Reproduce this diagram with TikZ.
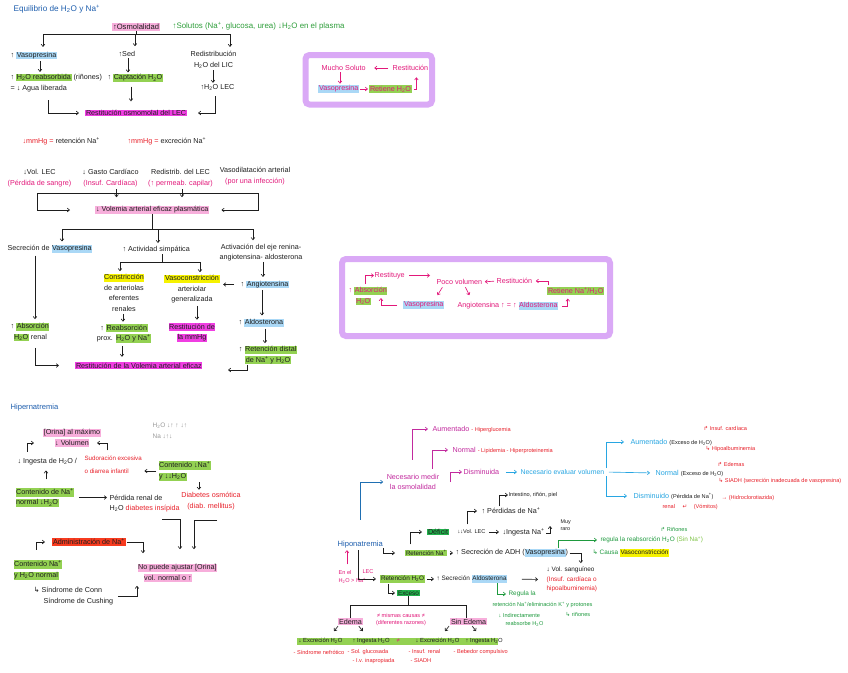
\documentclass[tikz,border=0pt]{standalone}
\usepackage{fontspec}
\setmainfont{Liberation Sans}
\newfontfamily\arrf{DejaVu Sans}
\usetikzlibrary{arrows.meta,calc}
\definecolor{ink}{HTML}{1E1E1E}
\definecolor{tblue}{HTML}{1F5FAE}
\definecolor{tgreen}{HTML}{2E9E3A}
\definecolor{tgreentwo}{HTML}{1E9A3E}
\definecolor{tlgreen}{HTML}{7CC242}
\definecolor{tmag}{HTML}{E2187A}
\definecolor{tred}{HTML}{E8202A}
\definecolor{tviolet}{HTML}{C22A9E}
\definecolor{tcyan}{HTML}{28A6E2}
\definecolor{tbluearr}{HTML}{1F6FB2}
\definecolor{hlpink}{HTML}{F7AEDB}
\definecolor{hlmag}{HTML}{F03EE2}
\definecolor{hlgreen}{HTML}{93D152}
\definecolor{hldgreen}{HTML}{22B24C}
\definecolor{hlblue}{HTML}{AAD8F6}
\definecolor{hlyellow}{HTML}{F6F200}
\definecolor{hlred}{HTML}{F73B1F}
\definecolor{cboxp}{HTML}{DAA9F6}
\definecolor{scribble}{HTML}{9A9A9A}
\newcommand{\HO}{H\textsubscript{2}O}
\newcommand{\Nap}{Na\textsuperscript{+}}
\newcommand{\Kp}{K\textsuperscript{+}}
\newcommand{\HL}[2]{{\setlength{\fboxsep}{0.6pt}\colorbox{#1}{\vphantom{Ay}#2}}}
\newcommand{\fs}{\fontsize{7.2}{10.5}\selectfont}
\newcommand{\fsm}{\fontsize{6.4}{9.7}\selectfont}
\newcommand{\fss}{\fontsize{5.6}{8.5}\selectfont}
\newcommand{\fsb}{\fontsize{5.9}{8}\selectfont}
\begin{document}
\begin{tikzpicture}[x=1pt,y=-1pt,
 t/.style={anchor=west,inner sep=0.4pt,font=\fs,align=left,text=ink},
 tc/.style={anchor=center,inner sep=0.4pt,font=\fs,align=center,text=ink},
 hl/.style={fill=#1,inner sep=0.8pt},
 ln/.style={line width=0.65pt,draw=#1}, ln/.default=ink,
 arr/.style={line width=0.65pt,draw=#1,-{Straight Barb[length=2.2pt,width=3.6pt]}}, arr/.default=ink,
 purplebox/.style={draw=cboxp,line width=6pt,rounded corners=4pt}]
\fill[white] (0,0) rectangle (848,672);
\useasboundingbox (0,0) rectangle (848,672);

% ===== Section 1 =====
\node[t,text=tblue,font=\fontsize{8.2}{10}\selectfont] (title) at (13,9.5) {Equilibrio de \HO{} y \Nap};
\node[t,hl=hlpink,font=\fontsize{7.6}{10}\selectfont] (osm) at (112,27) {↑Osmolalidad};
\node[t,text=tgreen,font=\fontsize{7.9}{10}\selectfont] (sol) at (172,26.5) {↑Solutos (\Nap, glucosa, urea) ↓\HO{} en el plasma};
\node[t] (vaso1) at (10,55.5) {↑ \HL{hlblue}{Vasopresina}};
\node[t] (reab1) at (10,77.5) {↑ \HL{hlgreen}{\HO{} reabsorbida} (riñones)};
\node[t] (agua) at (10,88.5) {= ↓ Agua liberada};
\node[t] (sed) at (118,53.5) {↑Sed};
\node[t] (capt) at (107,78) {↑ \HL{hlgreen}{Captación \HO}};
\node[tc] (redis) at (213.5,60) {Redistribución\\\HO{} del LIC};
\node[t] (lec1) at (200,87.5) {↑\HO{} LEC};
\node[t,hl=hlmag] (restit) at (85,113) {Restitución osmomolal del LEC};
\coordinate (bkL) at (43,34); \coordinate (bkM) at (135,34); \coordinate (bkR) at (230,34);
\draw[ln] (osm.south) -- (osm.south |- bkL);
\draw[ln] (bkL) -- (bkR);
\draw[arr,shorten >=4pt] (bkL) -- (bkL |- vaso1.north);
\draw[arr,shorten >=4pt] (bkM) -- (bkM |- sed.north);
\draw[arr,shorten >=4pt] (bkR) -- (bkR |- redis.north);
\draw[arr,shorten <=1pt,shorten >=1pt] (40,0 |- vaso1.south) -- (40,0 |- reab1.north);
\draw[arr,shorten <=1pt,shorten >=1pt] (128,0 |- sed.south) -- (128,0 |- capt.north);
\draw[arr,shorten <=1pt,shorten >=1pt] (213,0 |- redis.south) -- (213,0 |- lec1.north);
\draw[arr,shorten <=4pt,shorten >=8pt] (131,0 |- capt.south) -- (131,0 |- restit.north);
\draw[arr,shorten >=6pt] (48,0 |- agua.south) ++(0,8) |- (restit.west);
\draw[arr,shorten >=11pt] (215,0 |- lec1.south) ++(0,5) |- (restit.east);

% purple box 1
\draw[purplebox] (305.5,55) rectangle (432,104.5);
\node[t,text=tmag] (mucho) at (321,68) {Mucho Soluto};
\node[t,text=tmag] (restp1) at (392,68) {Restitución};
\node[t,hl=hlblue,text=tmag] (vasop1) at (318,89) {Vasopresina};
\node[t,hl=hlgreen,text=tmag] (ret1) at (369,89) {Retiene \HO};
\draw[arr=tmag,shorten <=4pt,shorten >=8pt] (restp1.west) -- (mucho.east);
\draw[arr=tmag,shorten <=1pt,shorten >=1pt] (340,0 |- mucho.south) -- (340,0 |- vasop1.north);
\draw[arr=tmag,shorten <=1pt,shorten >=1pt] (vasop1.east) -- (ret1.west);
\draw[arr=tmag,shorten <=2pt,shorten >=6pt] (ret1.east) -| ($(restp1.south)+(6,0)$);

% ===== Section 2 =====
\node[t] (mm1) at (22,141.5) {\textcolor{tred}{↓mmHg =} retención \Nap};
\node[t] (mm2) at (127,141.5) {\textcolor{tred}{↑mmHg =} excreción \Nap};
\node[tc] (c1) at (39.5,178) {↓Vol. LEC\\\textcolor{tmag}{(Pérdida de sangre)}};
\node[tc] (c2) at (110.5,178) {↓ Gasto Cardíaco\\\textcolor{tmag}{(Insuf. Cardíaca)}};
\node[tc] (c3) at (180.5,178) {Redistrib. del LEC\\\textcolor{tmag}{(↑ permeab. capilar)}};
\node[tc] (c4) at (255,176) {Vasodilatación arterial\\\textcolor{tmag}{(por una infección)}};
\node[t,hl=hlpink] (volem) at (95,210) {↓ Volemia arterial eficaz plasmática};
\coordinate (b2L) at (37,193); \coordinate (b2R) at (258,193);
\draw[ln] (b2L) -- (b2R);
\draw[arr,shorten >=25pt] (b2L) |- (volem.west);
\draw[arr,shorten >=12pt] (b2R) |- (volem.east);
\draw[arr] ($(c2.south)+(6,2)$) -- ++(0,8);
\draw[arr] ($(c3.south)+(1.5,2)$) -- ++(0,8);

% ===== Section 3 =====
\node[t] (secr) at (7,249) {Secreción de \HL{hlblue}{Vasopresina}};
\node[t] (simp) at (122,250) {↑ Actividad simpática};
\node[tc] (activ) at (261,252.5) {Activación del eje renina-\\angiotensina- aldosterona};
\coordinate (b3L) at (62,229); \coordinate (b3M) at (158,229); \coordinate (b3R) at (253,229);
\draw[ln] (volem.south) -- (volem.south |- b3L);
\draw[ln] (b3L) -- (b3R);
\draw[arr,shorten >=3pt] (b3L) -- (b3L |- secr.north);
\draw[arr,shorten >=3pt] (b3M) -- (b3M |- simp.north);
\draw[arr,shorten >=3pt] (b3R) -- (b3R |- activ.north);
\node[t] (absor) at (10,332) {↑ \HL{hlgreen}{Absorción}\\\hspace*{3pt}\HL{hlgreen}{\HO} renal};
\node[t,hl=hlmag] (restv) at (75,365.5) {Restitución de la Volemia arterial eficaz};
\draw[arr,shorten <=2pt,shorten >=3pt] (35,0 |- secr.south) -- (35,0 |- absor.north);
\draw[arr,shorten >=16pt] (35,0 |- absor.south) ++(0,6) |- (restv.west);
\coordinate (b4L) at (120,262); \coordinate (b4R) at (200,262);
\draw[ln] (162,0 |- simp.south) -- (162,0 |- b4L);
\draw[ln] (b4L) -- (b4R);
\node[tc] (const) at (124,292.5) {\HL{hlyellow}{Constricción}\\de arteriolas\\eferentes\\renales};
\node[tc] (reabp) at (124,333.5) {↑ \HL{hlgreen}{Reabsorción}\\prox. \HL{hlgreen}{\HO{} y \Nap}};
\node[tc] (vasoc) at (192,289) {\HL{hlyellow}{Vasoconstricción}\\arteriolar\\generalizada};
\node[tc] (restmm) at (192,332.5) {\HL{hlmag}{Restitución de}\\\HL{hlmag}{la mmHg}};
\draw[arr,shorten >=2pt] (b4L) -- (b4L |- const.north);
\draw[arr,shorten >=2pt] (b4R) -- (b4R |- vasoc.north);
\draw[arr,shorten <=2pt,shorten >=2pt] (123,0 |- const.south) -- (123,0 |- reabp.north);
\draw[arr,shorten <=3pt,shorten >=5pt] (122,0 |- reabp.south) -- (122,0 |- restv.north);
\draw[arr,shorten <=2pt,shorten >=3pt] (197,0 |- vasoc.south) -- (197,0 |- restmm.north);
\node[t] (angio) at (240,284.5) {↑ \HL{hlblue}{Angiotensina}};
\node[t] (aldo) at (238,323) {↑ \HL{hlblue}{Aldosterona}};
\node[tc] (retd) at (268,355) {↑ \HL{hlgreen}{Retención distal}\\\HL{hlgreen}{de \Nap{} y \HO}};
\draw[arr,shorten >=3pt] (263,0 |- activ.south) -- (263,0 |- angio.north);
\draw[arr,shorten <=6pt,shorten >=3pt] (angio.west) -- (vasoc.east |- angio.west);
\draw[arr,shorten <=1pt,shorten >=3pt] (262,0 |- angio.south) -- (262,0 |- aldo.north);
\draw[arr,shorten <=1pt,shorten >=2pt] (265,0 |- aldo.south) -- (265,0 |- retd.north);
\coordinate (e1) at (228,370);
\draw[arr] (247,0 |- retd.south) |- (e1);

% purple box 2
\draw[purplebox] (342,259) rectangle (610,336);
\node[t,text=tmag] (restuy) at (374,275.5) {Restituye};
\node[t,text=tmag] (poco) at (436,282) {Poco volumen};
\node[t,text=tmag] (restp2) at (496,281) {Restitución};
\node[t,hl=hlgreen,text=tmag] (ret2) at (547,291) {Retiene \Nap/\HO};
\node[t,text=tmag] (absor2) at (348,296) {↑ \HL{hlgreen}{Absorción}\\\hspace*{7pt}\HL{hlgreen}{\HO}};
\node[t,hl=hlblue,text=tmag] (vasop2) at (403,305) {Vasopresina};
\node[t,text=tmag] (angal) at (457,306) {Angiotensina ↑ = ↑ \HL{hlblue}{Aldosterona}};
\draw[arr=tmag,shorten <=2pt] (365,0 |- absor2.north) |- (restuy.west);
\draw[arr=tmag,shorten <=4pt,shorten >=6pt] (restuy.east) -- (poco.west |- restuy.east);
\draw[arr=tmag,shorten <=2pt,shorten >=2pt] (restp2.west) -- (poco.east);
\draw[arr=tmag,shorten >=3pt] ($(ret2.north west)+(1,-1)$) |- (restp2.east);
\draw[arr=tmag] ($(poco.south)+(-17,2)$) -- ($(poco.south)+(-22,10)$);
\draw[arr=tmag] ($(poco.south)+(6,2)$) -- ($(poco.south)+(10,10)$);
\draw[arr=tmag,shorten <=6pt] (vasop2.west) -- ++(-22,0) -- ++(0,-7);
\draw[arr=tmag,shorten <=3pt,shorten >=3pt] (angal.east) -| ($(ret2.south)+(-8,0)$);

% ===== Section 4: Hipernatremia =====
\node[t,text=tblue,font=\fontsize{7.6}{10}\selectfont] (hiper) at (10,408) {Hipernatremia};
\node[t,text=scribble,font=\fontsize{6.5}{11.5}\selectfont] (scrib) at (152,431) {\HO{} ↓↑ ↑ ↓↑\\Na ↓↑↓};
\node[tc] (orina) at (72,438) {\HL{hlpink}{[Orina] al máximo}\\\HL{hlpink}{↓ Volumen}};
\node[t] (ingesta) at (17,461.5) {↓ Ingesta de \HO{} /};
\node[t,text=tred,font=\fontsize{6.2}{12.5}\selectfont] (sudor) at (84,464.5) {Sudoración excesiva\\o diarrea infantil};
\node[t] (contd) at (158,471) {\HL{hlgreen}{Contenido ↓\Nap}\\\HL{hlgreen}{y ↓↓\HO}};
\node[t] (contn) at (15,497.5) {\HL{hlgreen}{Contenido de \Nap}\\\HL{hlgreen}{normal ↓\HO}};
\node[t] (perd) at (109,503.5) {Pérdida renal de\\\HO{} \textcolor{tred}{diabetes insípida}};
\node[tc,text=tred] (diab) at (211,501) {Diabetes osmótica\\(diab. mellitus)};
\node[t,hl=hlred] (admin) at (52,542) {Administración de \Nap};
\node[t] (contn2) at (13,570) {\HL{hlgreen}{Contenido \Nap}\\\HL{hlgreen}{y \HO{} normal}};
\node[t] (noajust) at (137,573) {\HL{hlpink}{No puede ajustar [Orina]}\\\hspace*{6pt}\HL{hlpink}{vol. normal o ↑}};
\node[t] (conn) at (33,596) {{\arrf ↳} Síndrome de Conn\\\hspace*{10pt}Síndrome de Cushing};
\coordinate (e3) at (34,443); \coordinate (e4) at (97,443);
\draw[arr,shorten <=6pt] (27,0 |- ingesta.north) |- (e3);
\draw[arr,shorten <=5pt] (107,0 |- sudor.north) |- (e4);
\draw[arr,shorten <=2pt,shorten >=2pt] (contd.west) -- (sudor.east |- contd.west);
\draw[arr,shorten <=1pt,shorten >=2pt] (199,0 |- contd.south) -- (199,0 |- diab.north);
\draw[arr,shorten <=8pt,shorten >=5pt] (46,0 |- contn.north) -- (46,0 |- ingesta.south);
\draw[arr,shorten <=4pt,shorten >=2pt] (contn.east) -- (contn.east -| perd.west);
\draw[arr,shorten >=14pt] (162,0 |- perd.south) ++(0,7) -| (180,0 |- noajust.north);
\draw[arr,shorten >=14pt] (217,0 |- diab.south) ++(0,10) -| (194,0 |- noajust.north);
\draw[arr,shorten <=10pt,shorten >=7pt] (36,0 |- contn2.north) |- (admin.west);
\draw[arr,shorten <=1pt,shorten >=10pt] (admin.east) -| (143,0 |- noajust.north);
\draw[arr,shorten >=3pt] ($(conn.east)+(4,0)$) -| (137,0 |- noajust.south);

% ===== Section 5: Hiponatremia =====
\node[t,text=tblue,font=\fontsize{7.6}{10}\selectfont] (hipo) at (337,545) {Hiponatremia};
\node[tc,text=tviolet] (necm) at (413,482) {Necesario medir\\la osmolalidad};
\node[t] (aum1) at (432,429) {\textcolor{tviolet}{Aumentado} {\fss\textcolor{tred}{- Hiperglucemia}}};
\node[t] (norm1) at (452,450) {\textcolor{tviolet}{Normal} {\fss\textcolor{tred}{- Lipidemia - Hiperproteinemia}}};
\node[t,text=tviolet] (dism) at (463,472) {Disminuida};
\node[t,text=tcyan,font=\fontsize{6.9}{10}\selectfont] (evalv) at (520,472) {Necesario evaluar volumen};
\draw[arr=tbluearr,shorten >=3pt] (360,0 |- hipo.north) ++(0,-21) |- (necm.west);
\draw[arr=tviolet,shorten >=4pt] (412,0 |- necm.north) ++(0,-14) |- (aum1.west);
\draw[arr=tviolet,shorten >=4pt] (432,0 |- necm.north) ++(0,-5) |- (norm1.west);
\draw[arr=tviolet,shorten >=1pt] (450,0 |- necm.east) |- (dism.west);
\draw[arr=tcyan,shorten <=6pt,shorten >=3pt] (dism.east) -- (evalv.west);
\node[t] (aum2) at (630,442) {\textcolor{tcyan}{Aumentado} {\fss(Exceso de \HO)}};
\node[t] (norm2) at (655,473) {\textcolor{tcyan}{Normal} {\fss(Exceso de \HO)}};
\node[t] (dism2) at (633,496) {\textcolor{tcyan}{Disminuido} {\fss(Pérdida de \Nap)}};
\draw[arr=tcyan,shorten >=6pt] ($(evalv.east)+(2,-4)$) |- (aum2.west);
\draw[arr=tcyan,shorten <=4pt,shorten >=5pt] (evalv.east) -- (norm2.west);
\draw[arr=tcyan,shorten >=6pt] ($(evalv.east)+(2,4)$) |- (dism2.west);
\node[t,font=\fss,text=tred] (hidro) at (721,498) {→ (Hidroclorotiazida)};
\node[t,font=\fss,text=tred] (renal) at (662,507) {renal \hspace{6pt}{\arrf ↵}\hspace{5pt} (Vómitos)};
\node[t,font=\fss,text=tred] (ic) at (703,428) {{\arrf ↱} Insuf. cardíaca};
\node[t,font=\fss,text=tred] (hipoalb) at (705,449) {{\arrf ↳} Hipoalbuminemia};
\node[t,font=\fss,text=tred] (edem) at (717,464) {{\arrf ↱} Edemas};
\node[t,font=\fss,text=tred] (siadh) at (718,481) {{\arrf ↳} SIADH (secreción inadecuada de vasopresina)};

\node[t,font=\fss] (intest) at (508,495) {Intestino, riñón, piel};
\node[t] (perdn) at (481,511) {↑ Pérdidas de \Nap};
\node[t,hl=hldgreen] (deficit) at (427,532) {Déficit};
\node[t,font=\fss] (vol) at (457,532) {↓↓Vol. LEC};
\node[t] (ing) at (502,532) {↓Ingesta \Nap};
\node[t,font=\fontsize{5.4}{7}\selectfont] (muy) at (560,525.5) {Muy\\raro};
\node[t,hl=hlgreen,font=\fontsize{6.2}{9}\selectfont] (retna) at (405,553) {Retención \Nap};
\node[t] (secadh) at (455,553) {↑ Secreción de ADH (\HL{hlblue}{Vasopresina})};
\node[t,font=\fsm,text=tgreentwo] (regula) at (600,540) {regula la reabsorción \HO{} \textcolor{tlgreen}{(Sin \Nap)}};
\node[t,font=\fss,text=tgreentwo] (rin1) at (660,529) {{\arrf ↱} Riñones};
\node[t,font=\fsm,text=tgreentwo] (causa) at (592,553) {{\arrf ↳} Causa \HL{hlyellow}{\textcolor{ink}{Vasoconstricción}}};
\draw[arr,shorten <=1pt] (499,0 |- perdn.north) |- (intest.west);
\draw[arr,shorten <=5pt,shorten >=4pt] (467,0 |- vol.north) |- (perdn.west);
\draw[arr,shorten <=5pt,shorten >=5pt] (410,0 |- retna.north) |- (deficit.west);
\draw[arr,shorten <=3pt,shorten >=3pt] (vol.east) -- (ing.west);
\draw[arr] ($(ing.east)+(1,1)$) -- ++(4,0) -- ++(0,-7);
\draw[arr,shorten <=3pt,shorten >=10pt] (hipo.east) |- (retna.west);
\draw[arr,shorten <=2pt,shorten >=2pt] (retna.east) -- (secadh.west);
\node[t,font=\fsm] (volsang) at (546,579.5) {↓ Vol. sanguíneo\\\textcolor{tred}{(Insuf. cardíaca o}\\\textcolor{tred}{hipoalbuminemia)}};
\draw[arr,shorten <=1pt,shorten >=3pt] (secadh.east) -| ($(volsang.north)+(9,0)$);
\draw[arr=tgreentwo,shorten >=3pt] ($(secadh.north east)+(-10,0)$) |- (regula.west);

\node[t,text=tmag,font=\fss] (enel) at (338,572) {En el};
\node[t,text=tmag,font=\fss] (lecm) at (362,572) {LEC};
\node[t,text=tmag,font=\fss] (hno) at (338,581) {\HO{} > \Nap};
\draw[arr=tmag,shorten <=5pt,shorten >=1pt] (347,0 |- enel.north) -- (347,0 |- hipo.south);
\node[t,hl=hlgreen,font=\fsm] (rethoo) at (380,579) {Retención \HO};
\node[t,font=\fsm] (secald) at (436,579) {↑ Secreción \HL{hlblue}{Aldosterona}};
\draw[arr,shorten <=1pt,shorten >=4pt] (358,0 |- hipo.south) |- (rethoo.west);
\draw[arr,shorten <=2pt,shorten >=2pt] (rethoo.east) -- (secald.west);
\draw[arr,shorten <=14pt,shorten >=8pt] (secald.east) -- (volsang.west);
\node[t,font=\fsm,text=tgreentwo] (reg2) at (508,594) {Regula la};
\node[t,font=\fss,text=tgreentwo] (reg3) at (492,605) {retención \Nap/eliminación \Kp{} y protones};
\node[t,font=\fss,text=tgreentwo] (reg4) at (498,615.5) {↓ Indirectamente};
\node[t,font=\fss,text=tgreentwo] (reg5) at (505,624) {reabsorbe \HO};
\node[t,font=\fss,text=tgreentwo] (rin2) at (565,614) {{\arrf ↳} riñones};
\draw[arr=tgreentwo,shorten >=2pt] ($(secald.south east)+(-10,0)$) |- (reg2.west);

\node[t,hl=hldgreen,font=\fsm] (exceso) at (397,593) {Exceso};
\draw[arr,shorten <=1pt,shorten >=2pt] (388,0 |- rethoo.south) |- (exceso.west);
\node[t,hl=hlpink] (edema) at (338,621.5) {Edema};
\node[t,hl=hlpink] (sinedema) at (450,621.5) {Sin Edema};
\node[tc,font=\fontsize{5.6}{7.2}\selectfont,text=tmag] (mismas) at (401,619.5) {≠ mismas causas ≠\\(diferentes razones)};
\coordinate (b5L) at (350,605); \coordinate (b5R) at (466,605);
\draw[ln] (exceso.south) -- (exceso.south |- b5L);
\draw[ln] (b5L) -- (b5R);
\draw[ln] (b5L) -- (b5L |- edema.north);
\draw[ln] (b5R) -- (b5R |- sinedema.north);
\fill[hlgreen] (297,637.5) rectangle (498,644.5);
\node[t,font=\fsb] (exc1) at (298,641) {↓ Excreción \HO};
\node[t,font=\fsb] (ing1) at (352,641) {↑ Ingesta \HO};
\node[t,font=\fsb,text=tmag] (neq) at (396,641) {≠};
\node[t,font=\fsb] (exc2) at (415,641) {↓ Excreción \HO};
\node[t,font=\fsb] (ing2) at (465,641) {↑ Ingesta \HO};
\draw[arr] ($(edema.south west)+(0,1)$) -- ++(-4,5);
\draw[arr] ($(edema.south east)+(-4,1)$) -- ++(4,5);
\draw[arr] ($(sinedema.south west)+(-1,1)$) -- ++(-4,5);
\draw[arr] ($(sinedema.south east)+(-15,1)$) -- ++(4,5);
\node[t,font=\fss,text=tred] (r1) at (293,652) {- Síndrome nefrótico};
\node[t,font=\fss,text=tred] (r2) at (347,656.5) {- Sol. glucosada\\\hspace*{5pt}- I.v. inapropiada};
\node[t,font=\fss,text=tred] (r3) at (408,656) {- Insuf. renal\\\hspace*{2pt}- SIADH};
\node[t,font=\fss,text=tred] (r4) at (453,652) {- Bebedor compulsivo};
\end{tikzpicture}
\end{document}
